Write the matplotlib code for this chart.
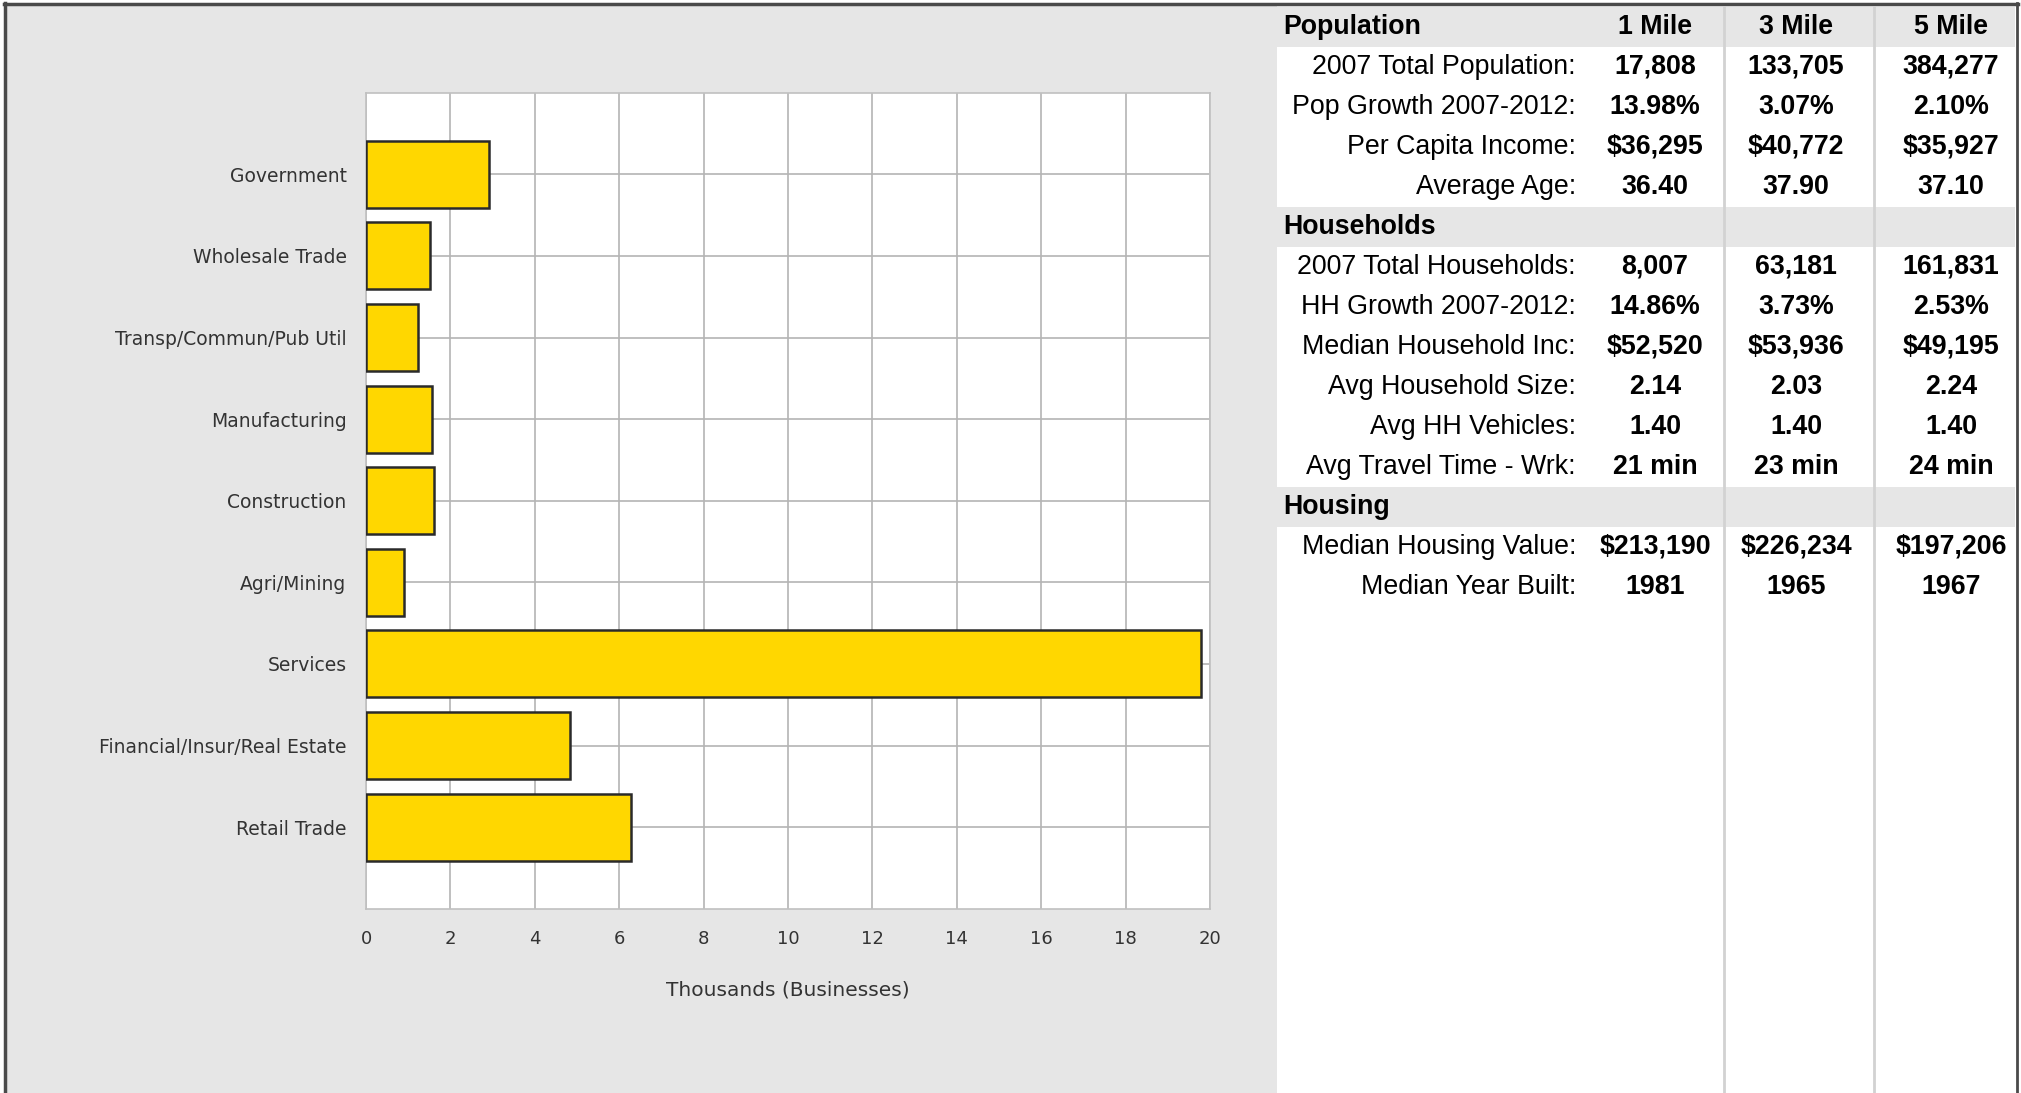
import matplotlib.pyplot as plt
from matplotlib.patches import Rectangle

# bar chart data (thousands of businesses), top to bottom
categories = ['Government', 'Wholesale Trade', 'Transp/Commun/Pub Util', 'Manufacturing',
              'Construction', 'Agri/Mining', 'Services', 'Financial/Insur/Real Estate',
              'Retail Trade']
businesses = [2.91, 1.52, 1.24, 1.57, 1.61, 0.91, 19.78, 4.84, 6.27]
xticks = [0, 2, 4, 6, 8, 10, 12, 14, 16, 18, 20]

# demographics table
columns = ['1 Mile', '3 Mile', '5 Mile']
population_rows = ['2007 Total Population:', 'Pop Growth 2007-2012:', 'Per Capita Income:',
                   'Average Age:']
population_vals = [['17,808', '133,705', '384,277'],
                   ['13.98%', '3.07%', '2.10%'],
                   ['$36,295', '$40,772', '$35,927'],
                   ['36.40', '37.90', '37.10']]
household_rows = ['2007 Total Households:', 'HH Growth 2007-2012:', 'Median Household Inc:',
                  'Avg Household Size:', 'Avg HH Vehicles:', 'Avg Travel Time - Wrk:']
household_vals = [['8,007', '63,181', '161,831'],
                  ['14.86%', '3.73%', '2.53%'],
                  ['$52,520', '$53,936', '$49,195'],
                  ['2.14', '2.03', '2.24'],
                  ['1.40', '1.40', '1.40'],
                  ['21 min', '23 min', '24 min']]
housing_rows = ['Median Housing Value:', 'Median Year Built:']
housing_vals = [['$213,190', '$226,234', '$197,206'],
                ['1981', '1965', '1967']]

W, H = 2021, 1093
fig = plt.figure(figsize=(W / 100, H / 100), dpi=100)
fig.patch.set_facecolor('white')

# background layer in pixel coordinates
bg = fig.add_axes([0, 0, 1, 1], zorder=0)
bg.set_xlim(0, W)
bg.set_ylim(H, 0)
bg.axis('off')
bg.add_patch(Rectangle((5, 4), 1277 - 5, H, facecolor='#e6e6e6', edgecolor='none'))
bg.plot([5, 5], [3, H], color='#4a4a4a', lw=2.5)
bg.plot([4, 2018], [4, 4], color='#4a4a4a', lw=2.5)
bg.plot([2017, 2017], [3, H], color='#4a4a4a', lw=2)

# table
tab_left, tab_right = 1277, 2015
label_x = 1576
col_x = [1655, 1796, 1951]
seps = [1724, 1874]
row_h = 40
y0 = 7
sections = [('Population', population_rows, population_vals),
            ('Households', household_rows, household_vals),
            ('Housing', housing_rows, housing_vals)]
tfont = 'Liberation Sans'
fs = 19.3
row = 0
for si, (title, labels, vals) in enumerate(sections):
    top = y0 + row * row_h
    bg.add_patch(Rectangle((tab_left, top), tab_right - tab_left, row_h,
                           facecolor='#e6e6e6', edgecolor='none'))
    bg.text(1283, top + row_h / 2, title, ha='left', va='center', fontsize=fs,
            fontweight='bold', family=tfont, color='black')
    if si == 0:
        for cx, c in zip(col_x, columns):
            bg.text(cx, top + row_h / 2, c, ha='center', va='center', fontsize=fs,
                    fontweight='bold', family=tfont, color='black')
    row += 1
    for lab, v in zip(labels, vals):
        cy = y0 + row * row_h + row_h / 2
        bg.text(label_x, cy, lab, ha='right', va='center', fontsize=fs,
                family=tfont, color='black')
        for cx, s in zip(col_x, v):
            bg.text(cx, cy, s, ha='center', va='center', fontsize=fs,
                    fontweight='bold', family=tfont, color='black')
        row += 1
for sx in seps:
    bg.plot([sx, sx], [y0, H], color='#d2d2d2', lw=2)

# bar chart
ax_l, ax_r, ax_t, ax_b = 366, 1210, 92.7, 908.7
ax = fig.add_axes([ax_l / W, 1 - ax_b / H, (ax_r - ax_l) / W, (ax_b - ax_t) / H], zorder=1)
ax.set_facecolor('white')
ypos = list(range(1, len(categories) + 1))
ax.barh(ypos, businesses, height=0.82, color='#ffd700', edgecolor='#2a2a2a',
        linewidth=1.8, zorder=3)
ax.set_xlim(0, 20)
ax.set_ylim(len(categories) + 1, 0)
ax.set_xticks(xticks)
ax.set_yticks(ypos)
ax.set_yticklabels(categories)
ax.grid(True, color='#b4b4b4', linewidth=1.2, zorder=0)
ax.set_axisbelow(True)
for sp in ax.spines.values():
    sp.set_color('#c0c0c0')
    sp.set_linewidth(1.2)
ax.tick_params(axis='both', length=0, labelcolor='#333333')
ax.tick_params(axis='y', pad=14, labelsize=13.5)
ax.tick_params(axis='x', pad=15, labelsize=13)
ax.set_xlabel('Thousands (Businesses)', fontsize=14.5, color='#333333', labelpad=24)

fig.savefig('out.png', dpi=100)
